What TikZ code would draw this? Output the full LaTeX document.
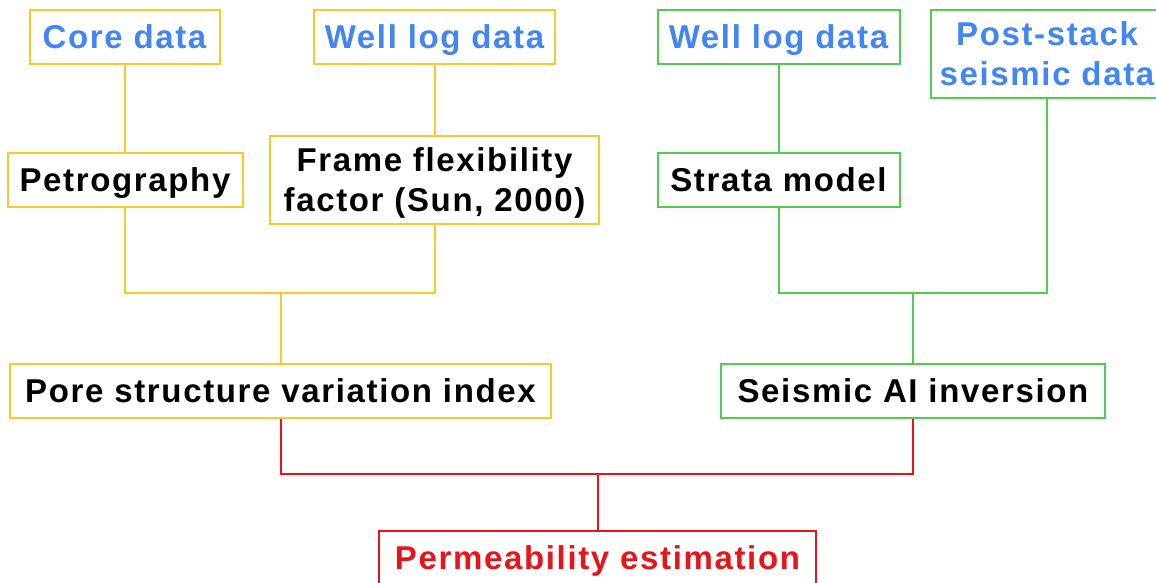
\documentclass[tikz,border=0pt]{standalone}
\usepackage{fontspec}
\setmainfont[LetterSpace=5]{Liberation Sans}
\definecolor{cblue}{RGB}{66,133,244}
\definecolor{cyel}{RGB}{250,200,40}
\definecolor{cgrn}{RGB}{80,205,80}
\definecolor{cred}{RGB}{232,20,28}
\tikzset{
  box/.style={draw, line width=2pt, fill=white, rectangle, inner sep=0pt, align=center,
    font=\fontsize{33}{40}\selectfont\bfseries, text height=23.6pt, text depth=0pt},
  twoline/.style={text height=63.6pt, text depth=0pt},
  ybox/.style={box, draw=cyel},
  gbox/.style={box, draw=cgrn},
  rbox/.style={box, draw=cred, text=cred},
  ylink/.style={draw=cyel, line width=2pt},
  glink/.style={draw=cgrn, line width=2pt},
  rlink/.style={draw=cred, line width=2pt},
}
\begin{document}
\begin{tikzpicture}[x=1pt,y=-1pt]
\useasboundingbox (0,0) rectangle (1156,582);
% top row
\node[ybox, text=cblue, minimum width=190pt, minimum height=54pt] (core) at (124.5,36.5) {Core data};
\node[ybox, text=cblue, minimum width=241pt, minimum height=54pt] (wly) at (434.5,36.5) {Well log data};
\node[gbox, text=cblue, minimum width=242pt, minimum height=54pt] (wlg) at (778.5,36.5) {Well log data};
\node[gbox, twoline, text=cblue, minimum width=232pt, minimum height=88pt] (post) at (1047,53.5) {Post-stack\\seismic data};
% second row
\node[ybox, minimum width=235pt, minimum height=54pt] (petro) at (125,180) {Petrography};
\node[ybox, twoline, minimum width=329pt, minimum height=88pt] (frame) at (434.5,179.5) {Frame flexibility\\factor (Sun, 2000)};
\node[gbox, minimum width=242pt, minimum height=54pt] (strata) at (778.5,180) {Strata model};
% third row
\node[ybox, minimum width=541pt, minimum height=54pt] (pore) at (280.5,391) {Pore structure variation index};
\node[gbox, minimum width=384pt, minimum height=54pt] (seis) at (913,391) {Seismic AI inversion};
% bottom
\node[rbox, minimum width=437pt, minimum height=54pt] (perm) at (597.5,558) {Permeability estimation};
% junctions
\coordinate (yj) at (280.5,293);
\coordinate (gj) at (913,293);
\coordinate (rj) at (597.5,474);
% yellow links
\draw[ylink] (core.south) -- (core.south |- petro.north);
\draw[ylink] (wly.south) -- (frame.north);
\draw[ylink] (petro.south) -- (petro.south |- yj) -- (frame.south |- yj) -- (frame.south);
\draw[ylink] (yj) -- (pore.north);
% green links
\draw[glink] (wlg.south) -- (strata.north);
\draw[glink] (strata.south) -- (strata.south |- gj) -- (post.south |- gj) -- (post.south);
\draw[glink] (gj) -- (seis.north);
% red links
\draw[rlink] (pore.south) -- (pore.south |- rj) -- (seis.south |- rj) -- (seis.south);
\draw[rlink] (rj) -- (perm.north);
\end{tikzpicture}
\end{document}
